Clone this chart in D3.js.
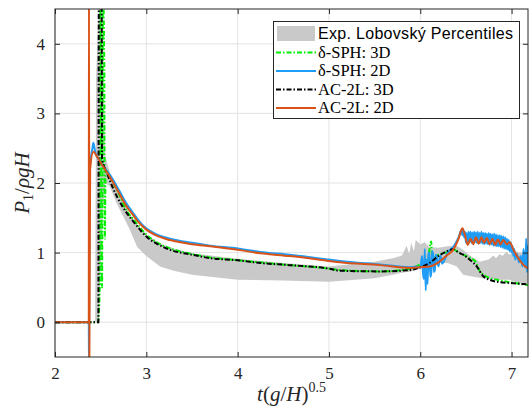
<!DOCTYPE html>
<html>
<head>
<meta charset="utf-8">
<script src="https://cdn.jsdelivr.net/npm/d3@7"></script>
<style>
  body { margin: 0; background: #fff; }
  svg { display: block; }
</style>
</head>
<body>
<div id="chart"></div>
<script>
// Exp. Lobovsky percentile band
const bandT = [2.44, 2.45, 2.48, 2.52, 2.55, 2.6, 2.675, 2.82, 2.9, 3.0, 3.15, 3.3, 3.5, 4.0, 4.5, 5.0, 5.5, 5.7, 5.8, 5.85, 5.88, 5.9, 5.93, 5.95, 6.0, 6.05, 6.1, 6.2, 6.3, 6.4, 6.47, 6.55, 6.65, 6.75, 6.8, 6.83, 6.87, 6.9, 6.94, 6.98, 7.03, 7.09, 7.2];
const bandHi = [0, 3.5, 4.6, 4.6, 2.4, 2.15, 1.92, 1.55, 1.40, 1.26, 1.13, 1.06, 0.99, 0.91, 0.85, 0.80, 0.87, 0.92, 0.96, 1.10, 0.98, 1.14, 1.02, 1.18, 1.12, 1.15, 1.08, 1.07, 1.09, 1.10, 1.04, 0.95, 0.87, 0.90, 0.96, 0.92, 0.98, 0.95, 1.01, 0.97, 1.03, 1.00, 0.97];
const bandLo = [0, 0, 0, 1.5, 2.0, 1.95, 1.71, 1.33, 1.08, 0.95, 0.80, 0.74, 0.68, 0.61, 0.60, 0.58, 0.63, 0.68, 0.71, 0.72, 0.72, 0.73, 0.74, 0.76, 0.80, 0.82, 0.85, 0.85, 0.85, 0.80, 0.68, 0.66, 0.64, 0.62, 0.62, 0.61, 0.61, 0.61, 0.61, 0.61, 0.58, 0.56, 0.56];

// delta-SPH 3D
const sph3dT = [2, 2.47, 2.49, 2.495, 2.515, 2.525, 2.54, 2.545, 2.555, 2.6, 2.7, 2.785, 2.85, 2.9, 2.95, 3.0, 3.1, 3.26, 3.5, 3.7, 4.0, 4.25, 4.57, 5.0, 5.12, 5.56, 5.89, 6.0, 6.08, 6.12, 6.13, 6.2, 6.25, 6.3, 6.36, 6.42, 6.5, 6.6, 6.65, 6.72, 6.84, 7.0, 7.2];
const sph3dP = [0, 0, 0.5, 4.8, 0.5, 4.8, 3.62, 1.2, 2.2, 2.1, 1.84, 1.6, 1.49, 1.41, 1.33, 1.26, 1.16, 1.06, 0.98, 0.93, 0.89, 0.86, 0.82, 0.77, 0.75, 0.73, 0.77, 0.83, 0.9, 1.16, 0.92, 0.97, 0.99, 1.01, 1.05, 1.0, 0.95, 0.88, 0.74, 0.66, 0.61, 0.57, 0.53];

// delta-SPH 2D
const sph2dT = [2, 2.37, 2.372, 2.38, 2.41, 2.42, 2.44, 2.5, 2.6, 2.7, 2.785, 2.85, 2.9, 2.95, 3.0, 3.1, 3.26, 3.5, 3.7, 4.0, 4.25, 4.57, 5.0, 5.12, 5.56, 5.89, 5.95, 6.0, 6.02, 6.03, 6.04, 6.05, 6.06, 6.07, 6.08, 6.09, 6.1, 6.11, 6.12, 6.13, 6.14, 6.15, 6.16, 6.17, 6.18, 6.2, 6.22, 6.24, 6.26, 6.3, 6.36, 6.42, 6.45, 6.46, 6.47, 6.48, 6.49, 6.5, 6.51, 6.52, 6.53, 6.54, 6.55, 6.56, 6.57, 6.58, 6.59, 6.6, 6.61, 6.62, 6.63, 6.64, 6.65, 6.66, 6.67, 6.68, 6.69, 6.7, 6.71, 6.72, 6.73, 6.74, 6.75, 6.76, 6.77, 6.78, 6.79, 6.8, 6.81, 6.82, 6.83, 6.84, 6.85, 6.86, 6.87, 6.88, 6.89, 6.9, 6.91, 6.92, 6.93, 6.94, 6.95, 6.96, 6.97, 6.98, 6.99, 7.0, 7.01, 7.02, 7.03, 7.04, 7.06, 7.08, 7.1, 7.12, 7.13, 7.15, 7.16, 7.17, 7.18, 7.19, 7.2];
const sph2dP = [0, 0, -0.6, 2.2, 2.5, 2.58, 2.45, 2.3, 2.12, 1.9, 1.7, 1.58, 1.49, 1.41, 1.35, 1.27, 1.2, 1.14, 1.1, 1.06, 1.01, 0.97, 0.9, 0.88, 0.83, 0.79, 0.8, 0.78, 0.95, 0.7, 0.62, 1.05, 0.46, 0.9, 0.55, 0.98, 1.0, 0.65, 0.7, 1.02, 0.98, 0.72, 0.75, 0.97, 0.95, 0.8, 0.96, 0.84, 0.88, 1.0, 1.08, 1.22, 1.32, 1.25, 1.34, 1.22, 1.3, 1.14, 1.28, 1.12, 1.3, 1.15, 1.3, 1.14, 1.29, 1.13, 1.3, 1.15, 1.29, 1.14, 1.3, 1.13, 1.28, 1.14, 1.3, 1.13, 1.28, 1.12, 1.28, 1.13, 1.27, 1.12, 1.28, 1.11, 1.27, 1.12, 1.26, 1.1, 1.27, 1.1, 1.26, 1.09, 1.25, 1.09, 1.25, 1.08, 1.24, 1.07, 1.23, 1.06, 1.22, 1.05, 1.2, 1.04, 1.18, 1.02, 1.15, 1.0, 1.1, 0.95, 1.05, 0.9, 0.98, 0.86, 0.95, 0.8, 1.05, 0.78, 1.2, 0.72, 1.1, 0.8, 1.0];

// AC-2L 3D
const ac3dT = [2, 2.475, 2.48, 2.51, 2.515, 2.57, 2.68, 2.785, 2.85, 2.9, 2.95, 3.0, 3.1, 3.26, 3.5, 3.7, 4.0, 4.25, 4.57, 5.0, 5.12, 5.56, 5.89, 6.0, 6.1, 6.21, 6.33, 6.36, 6.42, 6.47, 6.55, 6.62, 6.69, 6.76, 6.84, 7.02, 7.2];
const ac3dP = [0, 0, 4.8, 4.8, 2.35, 2.14, 1.8, 1.57, 1.46, 1.38, 1.3, 1.23, 1.14, 1.04, 0.97, 0.92, 0.89, 0.85, 0.82, 0.77, 0.74, 0.73, 0.75, 0.79, 0.85, 0.96, 1.04, 1.05, 1.0, 0.97, 0.89, 0.8, 0.66, 0.61, 0.58, 0.56, 0.54];

// AC-2L 2D
const ac2dT = [2, 2.37, 2.372, 2.376, 2.385, 2.42, 2.46, 2.52, 2.6, 2.7, 2.785, 2.85, 2.9, 2.95, 3.0, 3.1, 3.26, 3.5, 3.7, 4.0, 4.25, 4.57, 5.0, 5.12, 5.56, 5.89, 6.0, 6.1, 6.2, 6.3, 6.36, 6.42, 6.46, 6.49, 6.52, 6.55, 6.58, 6.61, 6.64, 6.67, 6.7, 6.73, 6.76, 6.79, 6.82, 6.85, 6.88, 6.91, 6.95, 6.98, 7.02, 7.06, 7.1, 7.15, 7.2];
const ac2dP = [0, 0, 5, -0.6, 2.2, 2.45, 2.38, 2.25, 2.09, 1.86, 1.66, 1.55, 1.46, 1.39, 1.33, 1.25, 1.18, 1.12, 1.09, 1.04, 0.99, 0.95, 0.88, 0.86, 0.82, 0.78, 0.79, 0.8, 0.86, 0.97, 1.04, 1.2, 1.35, 1.25, 1.11, 1.2, 1.12, 1.22, 1.13, 1.22, 1.14, 1.21, 1.12, 1.2, 1.11, 1.19, 1.12, 1.18, 1.12, 1.15, 1.04, 0.95, 0.87, 0.8, 0.77];

const xTicks = [2, 3, 4, 5, 6, 7];
const yTicks = [0, 1, 2, 3, 4];

const W = 531, H = 408;
const mLeft = 55, mRight = 528, mTop = 9, mBottom = 357;

const svg = d3.select("#chart").append("svg")
  .attr("width", W).attr("height", H);

const x = d3.scaleLinear().domain([2, 7.18]).range([mLeft, mRight]);
const y = d3.scaleLinear().domain([-0.5, 4.5]).range([mBottom, mTop]);

svg.append("defs").append("clipPath").attr("id", "clip")
  .append("rect").attr("x", mLeft).attr("y", mTop)
  .attr("width", mRight - mLeft).attr("height", mBottom - mTop);

// grid
svg.append("g").selectAll("line").data(xTicks).join("line")
  .attr("x1", d => x(d)).attr("x2", d => x(d))
  .attr("y1", mTop).attr("y2", mBottom)
  .attr("stroke", "#e3e3e3").attr("stroke-width", 1);
svg.append("g").selectAll("line").data(yTicks).join("line")
  .attr("y1", d => y(d)).attr("y2", d => y(d))
  .attr("x1", mLeft).attr("x2", mRight)
  .attr("stroke", "#e3e3e3").attr("stroke-width", 1);

const plot = svg.append("g").attr("clip-path", "url(#clip)");

// band
const band = bandT.map((t, i) => ({ t, hi: bandHi[i], lo: bandLo[i] }));
plot.append("path").datum(band)
  .attr("fill", "#c9c9c9")
  .attr("d", d3.area().x(d => x(d.t)).y0(d => y(d.lo)).y1(d => y(d.hi)));

const series = [
  { t: sph3dT, p: sph3dP, color: "#00ee00", dash: "5,2,1.5,2", name: "δ-SPH: 3D" },
  { t: sph2dT, p: sph2dP, color: "#1f9cf5", dash: null, name: "δ-SPH: 2D" },
  { t: ac3dT, p: ac3dP, color: "#000000", dash: "5,2,1.5,2", name: "AC-2L: 3D" },
  { t: ac2dT, p: ac2dP, color: "#d95319", dash: null, name: "AC-2L: 2D" }
];

const line = d3.line().x(d => x(d[0])).y(d => y(d[1])).curve(d3.curveMonotoneX);
series.forEach(s => {
  plot.append("path").datum(s.t.map((t, i) => [t, s.p[i]]))
    .attr("fill", "none")
    .attr("stroke", s.color)
    .attr("stroke-width", 2)
    .attr("stroke-dasharray", s.dash)
    .attr("d", line);
});

// axes with inward ticks
const serif = "'Liberation Serif', 'DejaVu Serif', serif";
const frame = "#262626";
function styleAxis(g) {
  g.select(".domain").remove();
  g.selectAll(".tick line").attr("stroke", frame);
  g.selectAll("text").attr("font-family", serif).attr("font-size", 17).attr("fill", frame);
}
svg.append("g").attr("transform", `translate(0,${mBottom})`)
  .call(d3.axisBottom(x).tickValues(xTicks).tickSize(-5).tickPadding(10).tickFormat(d3.format("d")))
  .call(styleAxis);
svg.append("g").attr("transform", `translate(0,${mTop})`)
  .call(d3.axisTop(x).tickValues(xTicks).tickSize(-5).tickFormat(""))
  .call(styleAxis);
svg.append("g").attr("transform", `translate(${mLeft},0)`)
  .call(d3.axisLeft(y).tickValues(yTicks).tickSize(-5).tickPadding(10).tickFormat(d3.format("d")))
  .call(styleAxis);
svg.append("g").attr("transform", `translate(${mRight},0)`)
  .call(d3.axisRight(y).tickValues(yTicks).tickSize(-5).tickFormat(""))
  .call(styleAxis);

svg.append("rect")
  .attr("x", mLeft).attr("y", mTop).attr("width", mRight - mLeft).attr("height", mBottom - mTop)
  .attr("fill", "none").attr("stroke", frame).attr("stroke-width", 1);

// axis labels
const xl = svg.append("text")
  .attr("x", (mLeft + mRight) / 2).attr("y", 401)
  .attr("text-anchor", "middle")
  .attr("font-family", serif).attr("font-size", 21).attr("fill", frame);
xl.append("tspan").attr("font-style", "italic").text("t");
xl.append("tspan").text("(");
xl.append("tspan").attr("font-style", "italic").text("g");
xl.append("tspan").text("/");
xl.append("tspan").attr("font-style", "italic").text("H");
xl.append("tspan").text(")");
xl.append("tspan").attr("font-size", 14).attr("dy", -9).text("0.5");

const yl = svg.append("text")
  .attr("transform", `translate(29,${(mTop + mBottom) / 2}) rotate(-90)`)
  .attr("text-anchor", "middle")
  .attr("font-family", serif).attr("font-size", 21).attr("fill", frame);
yl.append("tspan").attr("font-style", "italic").text("P");
yl.append("tspan").attr("font-size", 14).attr("dy", 4).text("1");
yl.append("tspan").attr("dy", -4).text("/");
yl.append("tspan").attr("font-style", "italic").text("ρgH");

// legend
const lg = svg.append("g");
lg.append("rect").attr("x", 273.5).attr("y", 21.5).attr("width", 246).attr("height", 97)
  .attr("fill", "#fff").attr("stroke", frame).attr("stroke-width", 1);
const rowY = [33.5, 52.5, 71, 89.5, 108];
lg.append("rect").attr("x", 277).attr("y", 26).attr("width", 38).attr("height", 15).attr("fill", "#c9c9c9");
lg.append("text").attr("x", 318).attr("y", rowY[0] + 5.5)
  .attr("font-family", "'Liberation Sans', Arial, sans-serif").attr("font-size", 16)
  .attr("textLength", 195).attr("lengthAdjust", "spacing")
  .attr("fill", "#000").text("Exp. Lobovský Percentiles");
series.forEach((s, i) => {
  const yy = rowY[i + 1];
  lg.append("line").attr("x1", 276).attr("x2", 316).attr("y1", yy).attr("y2", yy)
    .attr("stroke", s.color).attr("stroke-width", 2).attr("stroke-dasharray", s.dash);
  lg.append("text").attr("x", 318).attr("y", yy + 5)
    .attr("font-family", serif).attr("font-size", 16.5).attr("fill", "#000").text(s.name);
});
</script>
</body>
</html>
